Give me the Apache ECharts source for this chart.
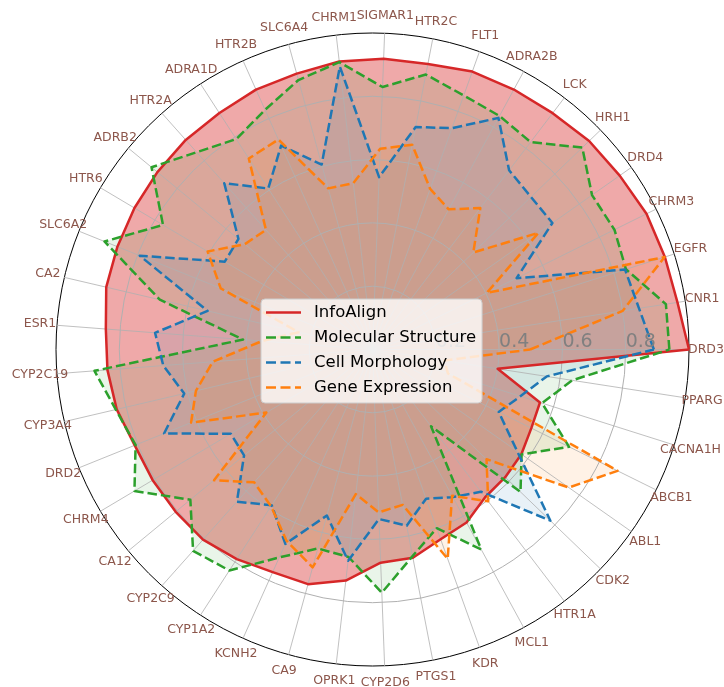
<!DOCTYPE html>
<html>
<head>
<meta charset="utf-8">
<script src="https://cdn.jsdelivr.net/npm/echarts@6/dist/echarts.min.js"></script>
<style>
html,body{margin:0;padding:0;background:#fff;}
#chart{width:724px;height:687px;}
</style>
</head>
<body>
<div id="chart"></div>
<script>
const targets = ['DRD3','CNR1','EGFR','CHRM3','DRD4','HRH1','LCK','ADRA2B','FLT1','HTR2C','SIGMAR1','CHRM1','SLC6A4','HTR2B','ADRA1D','HTR2A','ADRB2','HTR6','SLC6A2','CA2','ESR1','CYP2C19','CYP3A4','DRD2','CHRM4','CA12','CYP2C9','CYP1A2','KCNH2','CA9','OPRK1','CYP2D6','PTGS1','KDR','MCL1','HTR1A','CDK2','ABL1','ABCB1','CACNA1H','PPARG'];

const infoAlign = [1.0,0.975,0.969,0.966,0.955,0.95,0.939,0.935,0.933,0.919,0.919,0.916,0.904,0.90,0.89,0.887,0.881,0.875,0.869,0.864,0.845,0.84,0.83,0.81,0.808,0.806,0.805,0.789,0.771,0.769,0.735,0.674,0.670,0.637,0.622,0.587,0.582,0.575,0.56,0.555,0.40];
const molecular = [0.938,0.938,0.84,0.853,0.848,0.92,0.824,0.84,0.853,0.885,0.83,0.914,0.883,0.83,0.792,0.835,0.905,0.77,0.913,0.69,0.41,0.881,0.833,0.807,0.875,0.746,0.852,0.832,0.72,0.652,0.66,0.769,0.665,0.60,0.719,0.305,0.649,0.576,0.693,0.562,0.638];
const cellMorph = [0.889,0.852,0.837,0.508,0.695,0.695,0.712,0.833,0.743,0.716,0.545,0.90,0.606,0.706,0.606,0.704,0.549,0.543,0.793,0.535,0.689,0.663,0.611,0.71,0.521,0.526,0.644,0.586,0.673,0.544,0.672,0.536,0.567,0.501,0.531,0.565,0.78,0.559,0.445,0.49,0.557];
const geneExpr = [0.498,0.80,0.968,0.403,0.641,0.442,0.562,0.504,0.539,0.659,0.635,0.529,0.528,0.727,0.719,0.506,0.523,0.606,0.517,0.24,0.35,0.506,0.573,0.618,0.39,0.649,0.562,0.59,0.663,0.714,0.46,0.515,0.50,0.703,0.526,0.603,0.50,0.758,0.864,0.25,0.23];

const radialTicks = [0.2,0.4,0.6,0.8];
const seriesNames = ['InfoAlign','Molecular Structure','Cell Morphology','Gene Expression'];
const seriesColors = ['#d62728','#2ca02c','#1f77b4','#ff7f0e'];
const seriesValues = [infoAlign, molecular, cellMorph, geneExpr];

const CX = 372.5, CY = 349.5, R = 316.5;
const solidIcon = 'path://M0,0H35V2.5H0Z';
const dashIcon = 'path://M0,0H10V2.5H0Z M14.5,0H24.5V2.5H14.5Z M29,0H35V2.5H29Z';

const areaSeries = seriesNames.map((n, i) => ({
  type: 'radar', name: n, symbol: 'none', z: 2,
  lineStyle: {opacity: 0, width: 0},
  itemStyle: {color: seriesColors[i]},
  areaStyle: {color: seriesColors[i], opacity: i === 0 ? 0.4 : 0.1},
  data: [{name: n, value: seriesValues[i]}]
}));
const lineSeries = seriesNames.map((n, i) => ({
  type: 'radar', name: n, symbol: 'none', z: 4,
  lineStyle: {color: seriesColors[i], width: 2.5, type: i === 0 ? 'solid' : [9.5, 4], join: 'round', cap: 'butt'},
  itemStyle: {color: seriesColors[i]},
  data: [{name: n, value: seriesValues[i]}]
}));

const chart = echarts.init(document.getElementById('chart'), null, {renderer:'canvas'});
const option = {
  backgroundColor: '#ffffff',
  animation: false,
  color: seriesColors,
  radar: {
    z: 3,
    center: [CX, CY],
    radius: R,
    startAngle: 0,
    shape: 'circle',
    splitNumber: 5,
    indicator: targets.map(t => ({name: t, min: 0, max: 1})),
    axisNameGap: 17,
    axisName: {color: '#8c564b', fontSize: 12.5, fontFamily: 'DejaVu Sans', align: 'center', verticalAlign: 'middle'},
    axisLine: {lineStyle: {color: '#b0b0b0', width: 0.8}},
    axisTick: {show: false},
    axisLabel: {show: false},
    splitLine: {lineStyle: {color: ['#b0b0b0','#b0b0b0','#b0b0b0','#b0b0b0','#b0b0b0','#000000'], width: 1}},
    splitArea: {show: false}
  },
  polar: {center: [CX, CY], radius: R, z: 5},
  angleAxis: {type: 'value', show: false, startAngle: 0, min: 0, max: 360},
  radiusAxis: {
    type: 'value', min: 0, max: 1, interval: 0.2, z: 5,
    axisLine: {show: false}, axisTick: {show: false}, splitLine: {show: false},
    axisLabel: {
      show: true, color: '#808080', fontSize: 19, fontFamily: 'DejaVu Sans', align: 'left', margin: -2,
      formatter: v => radialTicks.some(t => Math.abs(t - v) < 1e-6) ? v.toFixed(1) : ''
    }
  },
  legend: {
    orient: 'vertical', left: 261, top: 299,
    padding: [5, 6, 7, 5],
    itemWidth: 35, itemHeight: 2.5, itemGap: 8,
    backgroundColor: 'rgba(255,255,255,0.8)', borderColor: '#cccccc', borderWidth: 1, borderRadius: 4,
    textStyle: {color: '#000', fontSize: 16.5, fontFamily: 'DejaVu Sans', padding: [0,0,0,8]},
    data: seriesNames.map((n, i) => ({name: n, icon: i === 0 ? solidIcon : dashIcon})),
    z: 10
  },
  series: areaSeries.concat(lineSeries)
};
chart.setOption(option);
</script>
</body>
</html>
